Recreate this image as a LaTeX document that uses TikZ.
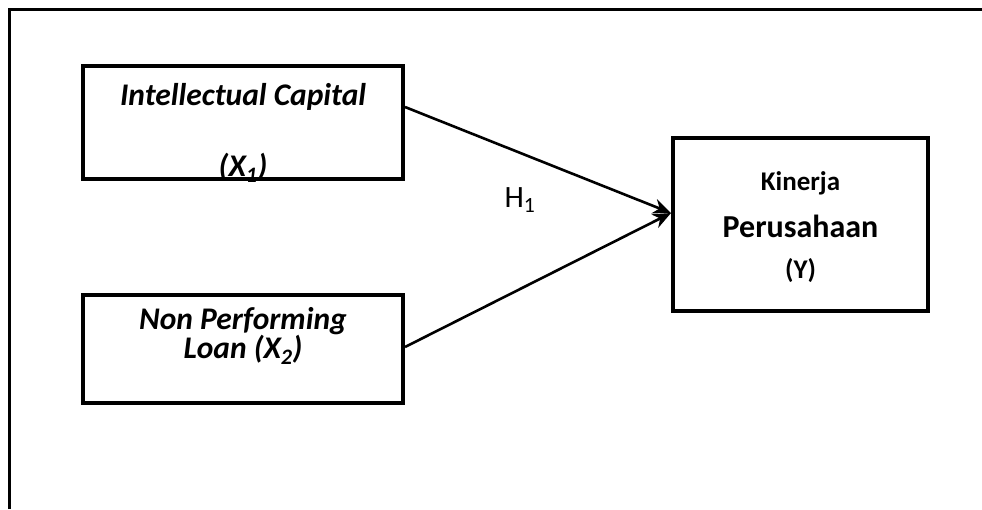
\documentclass[tikz,border=0pt]{standalone}
\usepackage{fontspec}
\setmainfont{Carlito}
\usetikzlibrary{arrows.meta,positioning,calc}

\begin{document}
\begin{tikzpicture}[
  x=1pt, y=-1pt,
  >={Stealth[length=18pt,width=15pt]},
  box/.style={draw, line width=4pt, inner sep=0pt},
  var/.style={font=\fontsize{31.5}{26}\selectfont\bfseries\itshape, align=center, inner sep=0pt},
  dep/.style={font=\fontsize{27}{27}\selectfont\bfseries, inner sep=0pt},
  hyp/.style={font=\fontsize{31}{31}\selectfont, inner sep=0pt},
  link/.style={->, line width=2.6pt}
]

% --- canvas and open frame (top and left only)
\useasboundingbox (0,0) rectangle (982,509);
\draw[line width=3pt] (9.5,509) |- (982,9.5);

% --- x locations
\def\xL{243}     % left column
\def\xR{800.5}   % right column

% --- boxes
\node[box, minimum width=320pt, minimum height=113pt] (ic)  at (\xL,122.5) {};
\node[box, minimum width=320pt, minimum height=108pt] (npl) at (\xL,349) {};
\node[box, minimum width=255pt, minimum height=173pt] (kp)  at (\xR,224.5) {};

% --- texts in the boxes
\node[var] (icName) at (\xL,97)  {Intellectual Capital};
\node[var] (icSym)  at (\xL,168) {(X\textsubscript{1})};
\node[var] (nplName) at (\xL,336) {Non Performing\\Loan (X\textsubscript{2})};
\node[dep] (kpA) at (\xR,183) {Kinerja};
\node[dep, font=\fontsize{32}{32}\selectfont\bfseries] (kpB) at (\xR,226) {Perusahaan};
\node[dep] (kpC) at (\xR,271) {(Y)};

% --- paths into Y
\coordinate (tip) at ([yshift=11.5pt]kp.west);
\draw[link] ([yshift=15.5pt]ic.east) -- (tip);
\draw[link] ([yshift=2pt]npl.east) -- (tip);

% --- hypothesis label
\node[hyp] (h1) at (520,200) {H\textsubscript{1}};

\end{tikzpicture}
\end{document}
